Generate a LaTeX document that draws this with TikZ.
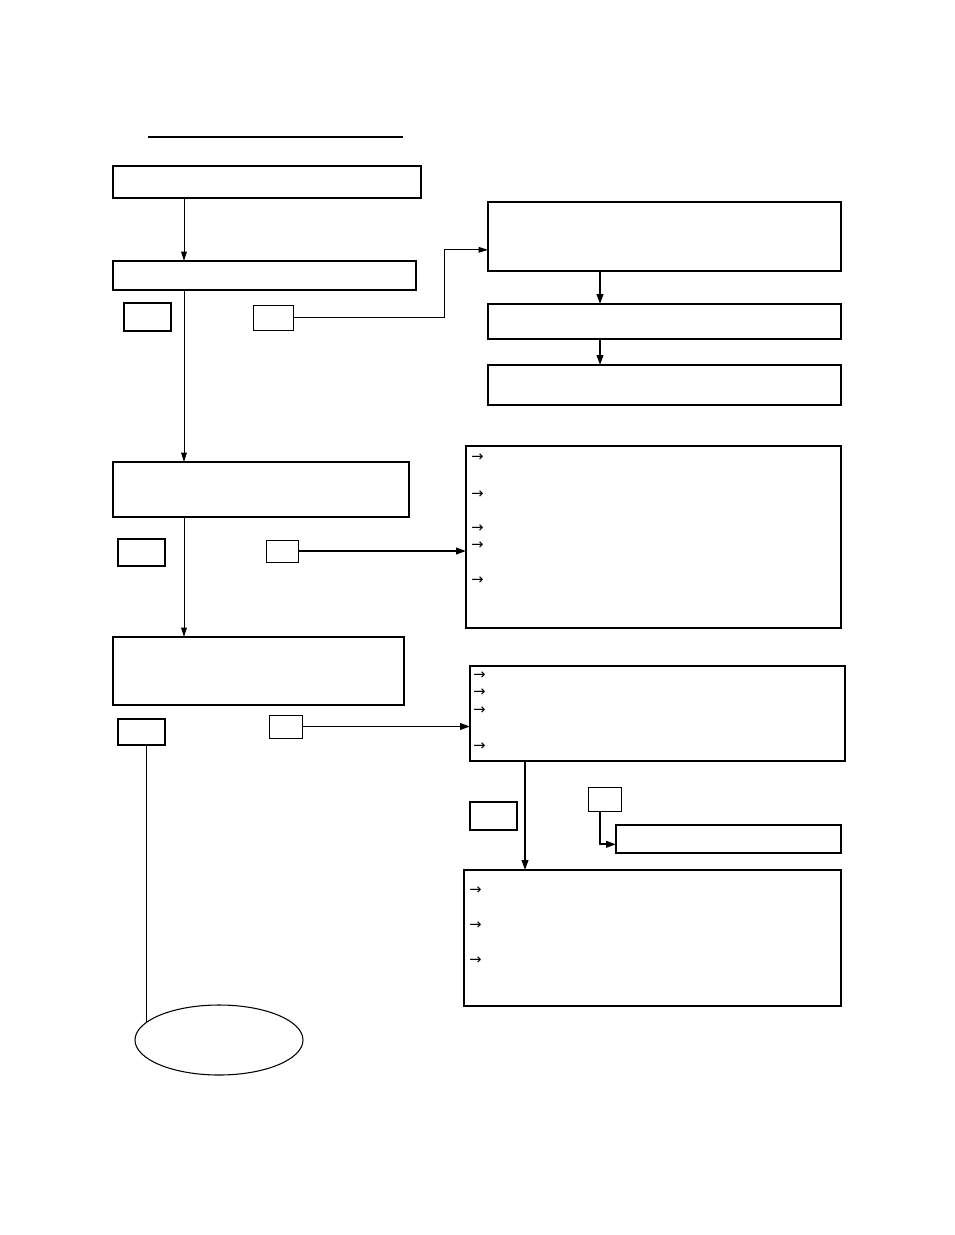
\documentclass[tikz,border=0pt]{standalone}
\usepackage{fontspec}
\newfontfamily\symfont{DejaVu Sans}
\usepackage{tikz}
\usetikzlibrary{arrows.meta, positioning, shapes.geometric, calc}

\begin{document}
\begin{tikzpicture}[
		x=0.75pt, y=-0.75pt,
		every node/.style={font=\symfont\fontsize{11}{12}\selectfont},
		stage/.style={rectangle, draw, line width=1.2pt, inner sep=0pt, outer sep=0pt},
		answer/.style={rectangle, draw, line width=1.2pt, inner sep=0pt, outer sep=0pt, minimum width=35.25pt},
		option/.style={rectangle, draw, line width=0.75pt, inner sep=0pt, outer sep=0pt},
		listbox/.style={rectangle, draw, line width=1.2pt, inner sep=0pt, outer sep=0pt},
		item/.style={anchor=west, inner sep=0pt},
		endpoint/.style={ellipse, draw, line width=0.8pt, inner sep=0pt, minimum width=126pt, minimum height=52.5pt},
		arrow/.style={-{Triangle[length=7pt, width=4.2pt]}, line width=0.75pt},
		thickarrow/.style={-{Triangle[length=7.5pt, width=5pt]}, line width=1.3pt}
		]
		\useasboundingbox (0,0) rectangle (954,1235);
		
		% Title rule
		\draw[line width=1.3pt] (148,137) -- (403,137);
		
		% Left column
		\node[stage, minimum width=231pt, minimum height=24pt] (check1) at (267,182) {};
		\node[stage, minimum width=227.25pt, minimum height=21.75pt] (check2) at (264.5,275.5) {};
		\node[answer, minimum height=21pt] (yes1) at (147.5,317) {};
		\node[option, minimum width=30pt, minimum height=18.75pt] (no1) at (273,317.5) {};
		\node[stage, minimum width=222pt, minimum height=41.25pt] (check3) at (261,489.5) {};
		\node[answer, minimum height=20.25pt] (yes2) at (141.5,552.5) {};
		\node[option, minimum width=24pt, minimum height=16.5pt] (no2) at (282,551) {};
		\node[stage, minimum width=218.25pt, minimum height=51pt] (check4) at (258.5,671) {};
		\node[answer, minimum height=19.5pt] (yes3) at (141.5,732) {};
		\node[option, minimum width=24.75pt, minimum height=17.25pt] (no3) at (285.5,726.5) {};
		\node[endpoint] (finish) at (219,1040) {};
		
		% Right column
		\node[stage, minimum width=264.75pt, minimum height=51.75pt] (step1) at (664.5,236.5) {};
		\node[stage, minimum width=264.75pt, minimum height=26.25pt] (step2) at (664.5,321.5) {};
		\node[stage, minimum width=264.75pt, minimum height=30pt] (step3) at (664.5,385) {};
		\node[listbox, minimum width=281.25pt, minimum height=136.5pt] (list1) at (653.5,537) {};
		\node[listbox, minimum width=281.25pt, minimum height=71.25pt] (list2) at (657.5,713.5) {};
		\node[answer, minimum height=21pt] (yes4) at (493.5,816) {};
		\node[option, minimum width=24.75pt, minimum height=18pt] (no4) at (604.5,799) {};
		\node[stage, minimum width=168.75pt, minimum height=21pt] (step4) at (728.5,839) {};
		\node[listbox, minimum width=282.75pt, minimum height=102pt] (list3) at (652.5,938) {};
		
		% List markers
		\foreach \y [count=\i] in {458,495,529,546,581}
			\node[item] (markA\i) at (471,\y) {→};
		\foreach \y [count=\i] in {676,693,711,747}
			\node[item] (markB\i) at (473,\y) {→};
		\foreach \y [count=\i] in {891,926,961}
			\node[item] (markC\i) at (469,\y) {→};
		
		% Columns and entry points used by the connectors
		\coordinate (trunk) at (184,0);
		\coordinate (bend) at (444,0);
		\coordinate (rcol) at (600,0);
		\coordinate (lcol) at (525,0);
		\coordinate (step1in) at ([yshift=-10pt]step1.west);
		\coordinate (step4in) at ([yshift=-4pt]step4.west);
		
		% Connection arrows
		\draw[arrow] (check1.south -| trunk) -- (check2.north -| trunk);
		\draw[arrow] (check2.south -| trunk) -- (check3.north -| trunk);
		\draw[arrow] (check3.south -| trunk) -- (check4.north -| trunk);
		\draw[arrow] (no1.east) -| (bend |- step1in) -- (step1in);
		\draw[thickarrow] (step1.south -| rcol) -- (step2.north -| rcol);
		\draw[thickarrow] (step2.south -| rcol) -- (step3.north -| rcol);
		\draw[thickarrow] (no2.east) -- (no2.east -| list1.west);
		\draw[thickarrow] (no3.east) -- (no3.east -| list2.west);
		\draw[thickarrow] (list2.south -| lcol) -- (list3.north -| lcol);
		\draw[thickarrow] (no4.south -| rcol) |- (step4in);
		\draw[line width=0.75pt] (yes3.south -| finish.166) -- (finish.166);
		
	\end{tikzpicture}
\end{document}
